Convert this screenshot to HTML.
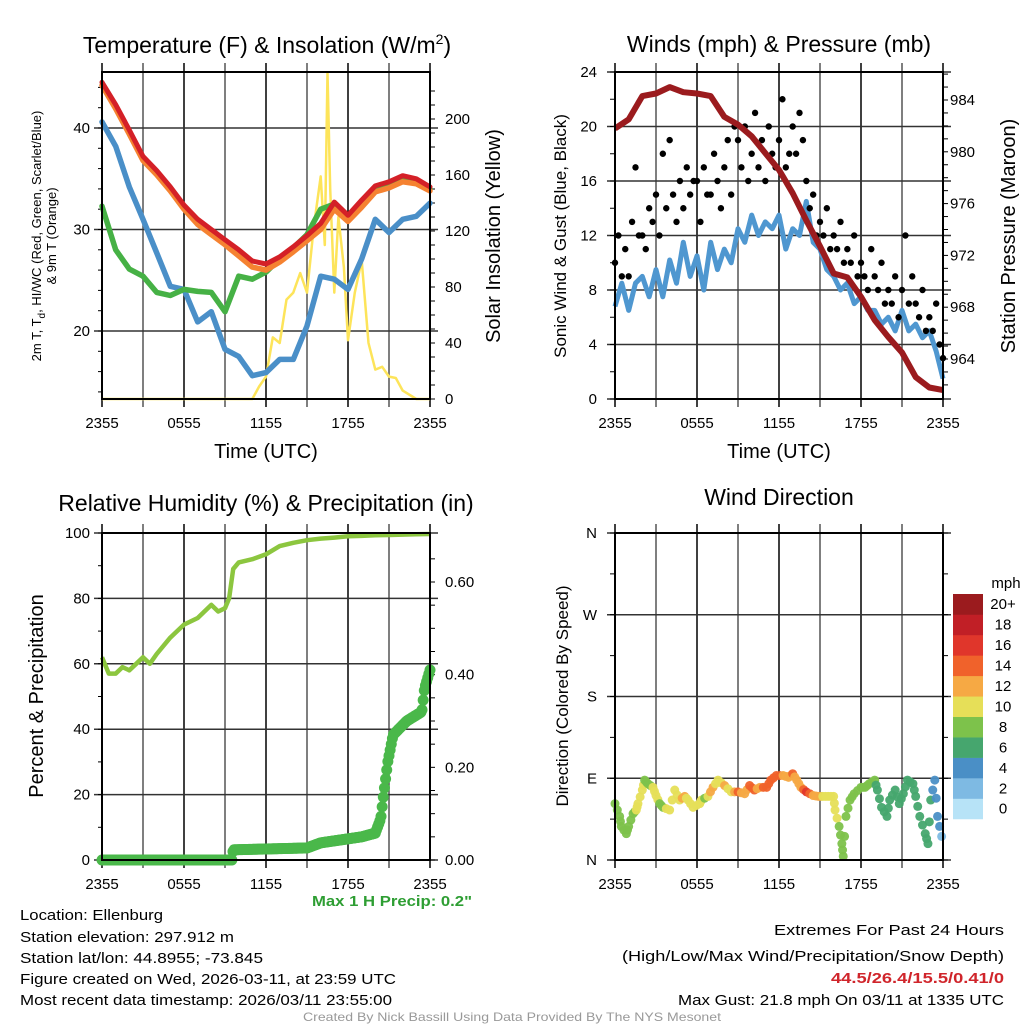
<!DOCTYPE html>
<html><head><meta charset="utf-8"><style>
html,body{margin:0;padding:0;background:#fff;}
svg{display:block;font-family:"Liberation Sans",sans-serif;}
</style></head><body>
<svg id="fig" width="1024" height="1024" viewBox="0 0 1024 1024" xmlns="http://www.w3.org/2000/svg">
<g id="g1"></g>
<g id="g2"></g>
<g id="g3"></g>
<g id="g4"></g>
<g id="txt">
<text x="267" y="53" font-size="23" text-anchor="middle">Temperature (F) &amp; Insolation (W/m<tspan dy="-9" font-size="14">2</tspan><tspan dy="9">)</tspan></text>
<text x="779" y="52" font-size="23" text-anchor="middle">Winds (mph) &amp; Pressure (mb)</text>
<text x="266" y="511" font-size="23" text-anchor="middle">Relative Humidity (%) &amp; Precipitation (in)</text>
<text x="779" y="505" font-size="23" text-anchor="middle">Wind Direction</text>
<text x="266" y="458" font-size="20" text-anchor="middle">Time (UTC)</text>
<text x="779" y="458" font-size="20" text-anchor="middle">Time (UTC)</text>
<text transform="translate(41,236) rotate(-90)" font-size="13" text-anchor="middle">2m T, T<tspan dy="4" font-size="10">d</tspan><tspan dy="-4">, HI/WC (Red, Green, Scarlet/Blue)</tspan></text>
<text transform="translate(56,236) rotate(-90)" font-size="13" text-anchor="middle">&amp; 9m T (Orange)</text>
<text transform="translate(500,236) rotate(-90)" font-size="20" text-anchor="middle">Solar Insolation (Yellow)</text>
<text transform="translate(566,236) rotate(-90)" font-size="17" text-anchor="middle">Sonic Wind &amp; Gust (Blue, Black)</text>
<text transform="translate(1015,236) rotate(-90)" font-size="20" text-anchor="middle">Station Pressure (Maroon)</text>
<text transform="translate(43,696) rotate(-90)" font-size="20" text-anchor="middle">Percent &amp; Precipitation</text>
<text transform="translate(568,696) rotate(-90)" font-size="17" text-anchor="middle">Direction (Colored By Speed)</text>
<text x="472" y="906" font-size="15" font-weight="bold" fill="#2e9e33" text-anchor="end" textLength="160" lengthAdjust="spacingAndGlyphs">Max 1 H Precip: 0.2"</text>
<text x="20" y="920" font-size="15" textLength="143" lengthAdjust="spacingAndGlyphs">Location: Ellenburg</text>
<text x="20" y="942" font-size="15" textLength="214" lengthAdjust="spacingAndGlyphs">Station elevation: 297.912 m</text>
<text x="20" y="963" font-size="15" textLength="243" lengthAdjust="spacingAndGlyphs">Station lat/lon: 44.8955; -73.845</text>
<text x="20" y="984" font-size="15" textLength="376" lengthAdjust="spacingAndGlyphs">Figure created on Wed, 2026-03-11, at 23:59 UTC</text>
<text x="20" y="1005" font-size="15" textLength="372" lengthAdjust="spacingAndGlyphs">Most recent data timestamp: 2026/03/11 23:55:00</text>
<text x="1004" y="935" font-size="15" text-anchor="end" textLength="230" lengthAdjust="spacingAndGlyphs">Extremes For Past 24 Hours</text>
<text x="1004" y="961" font-size="15" text-anchor="end" textLength="382" lengthAdjust="spacingAndGlyphs">(High/Low/Max Wind/Precipitation/Snow Depth)</text>
<text x="1004" y="983" font-size="15" font-weight="bold" fill="#d0252b" text-anchor="end" textLength="173" lengthAdjust="spacingAndGlyphs">44.5/26.4/15.5/0.41/0</text>
<text x="1004" y="1005" font-size="15" text-anchor="end" textLength="326" lengthAdjust="spacingAndGlyphs">Max Gust: 21.8 mph On 03/11 at 1335 UTC</text>
<text x="512" y="1021" font-size="12" fill="#999" text-anchor="middle" textLength="418" lengthAdjust="spacingAndGlyphs">Created By Nick Bassill Using Data Provided By The NYS Mesonet</text>
</g>
</svg>
<script>
// ---- Data ----
const timeLabels = ["2355","0555","1155","1755","2355"];
const hours = [0,1,2,3,4,5,6,7,8,9,10,11,12,13,14,15,16,17,18,19,20,21,22,23,24];
const tempRed = [44.5,42.3,39.8,37.2,35.8,34.2,32.4,31.0,30.0,29.0,28.0,26.9,26.6,27.3,28.3,29.4,30.6,32.7,31.4,32.9,34.3,34.7,35.3,35.0,34.2];
const temp9mOrange = [44.2,41.9,39.4,36.8,35.4,33.8,32.0,30.5,29.5,28.5,27.4,26.3,26.0,26.8,27.8,28.9,30.0,32.0,30.8,32.2,33.7,34.1,34.7,34.5,33.8];
const hiwcGreen = [32.3,28.0,26.1,25.4,23.8,23.5,24.1,23.9,23.8,21.9,25.4,25.1,25.8,27.1,28.2,29.5,32.0,32.5,31.2,32.7,34.1,34.5,35.1,34.9,34.0];
const dewBlue = [40.6,38.2,34.2,31.0,27.7,24.4,24.1,20.9,21.9,18.2,17.5,15.6,15.9,17.2,17.2,20.5,25.4,25.1,24.1,27.1,31.0,29.7,31.0,31.3,32.6];
const solarTimes = [0,11,11.5,12,12.5,13,13.5,14,14.5,15,15.5,16,16.3,16.5,16.7,17,17.3,17.7,18,18.5,19,19.5,20,20.5,21,21.5,22,23,24];
const solarVals = [0,0,9,16,44,40,71,76,90,76,123,159,110,233,150,76,130,94,42,76,99,40,21,23,16,15,6,0,0];
const windTimes = [0,.5,1,1.5,2,2.5,3,3.5,4,4.5,5,5.5,6,6.5,7,7.5,8,8.5,9,9.5,10,10.5,11,11.5,12,12.5,13,13.5,14,14.5,15,15.5,16,16.5,17,17.5,18,18.5,19,19.5,20,20.5,21,21.5,22,22.5,23,23.5,24];
const windSpeed = [6.8,8.5,6.5,8.5,9.0,7.5,9.5,7.5,10.2,8.5,11.5,9.0,10.5,8.0,11.5,9.5,11.0,10.0,12.5,11.5,13.5,12.0,13.0,12.5,13.5,11.0,12.5,12.0,14.5,11.5,11.0,9.5,9.0,8.0,8.5,7.0,7.5,6.5,6.5,5.5,6.0,5.0,6.5,5.0,5.5,4.5,5.0,3.5,1.5];
const gustVals = [10,12,9,11, 9,13,17,12, 12,11,14,13, 15,12,18,14, 19,15,13,16, 14,17,15,16, 16,13,17,15, 15,18,16,14, 17,19,15,20, 19,17,20,16, 18,21,17,19, 16,20,18,17, 19,22,17,18, 20,18,21,19, 16,14,15,12, 13,12,14,11, 12,11,13,10, 11,10,12,9, 10,9,8,11, 9,8,10,7, 8,7,9,6, 8,12,7,9, 7,6,8,5, 6,5,7,4, 3];
const pressure = [981.8,982.5,984.3,984.5,985.0,984.6,984.5,984.3,982.7,982.1,981.2,979.9,978.6,976.8,974.7,972.7,970.6,970.3,968.8,967.0,965.7,964.5,962.6,961.8,961.6];
const rhTimes = [0,0.5,1,1.5,2,2.5,3,3.5,4,5,6,7,8,8.5,9,9.3,9.6,10,11,12,13,14,15,16,17,18,19,20,21,22,23,24];
const rhVals = [62,57,57,59,58,60,62,60,63,68,72,74,78,76,77,80,89,91,92,93.5,96,97,97.8,98.3,98.6,99,99.1,99.3,99.4,99.5,99.6,99.7];
const precipTimes = [0,9.5,9.6,15,16,19,20,20.4,20.6,20.9,21.3,22.3,23.4,23.6,24];
const precipVals = [0,0,0.022,0.026,0.037,0.05,0.058,0.09,0.14,0.21,0.27,0.30,0.32,0.37,0.41];
const dirTimes = [0,.34,.46,.83,1.0,1.32,1.56,1.68,2.0,2.17,2.41,2.78,3.0,3.27,3.51,4.0,4.37,4.73,5.1,5.34,5.71,6.2,6.32,6.8,7.17,7.54,8.02,8.5,9.0,9.49,9.85,10.2,10.6,11.1,11.4,11.8,12.3,12.7,13.0,13.3,13.6,14.0,14.5,14.9,15.2,15.6,16.0,16.1,16.4,16.6,16.7,16.9,17.2,17.5,18.0,18.3,18.6,19.0,19.2,19.5,19.9,20.1,20.5,20.8,21.1,21.4,21.8,22.0,22.3,22.7,22.9,23.1,23.4,23.6,23.9];
const dirVals = [62,48,37,29,37,51,55,62,77,88,84,80,71,62,58,55,77,66,70,66,58,62,66,70,80,88,82,75,75,73,82,77,80,80,88,93,93,91,95,88,80,75,71,70,70,70,70,55,37,18,4,48,66,73,80,80,84,88,77,58,48,66,77,62,73,88,84,70,48,29,18,66,88,48,26];
const cbLabels = ["0","2","4","6","8","10","12","14","16","18","20+"];
const cbColors = ["#b7e3f7","#7ebae3","#4a8fc6","#46a66e","#7dc24b","#e6df58","#f6a944","#f0622b","#e0362b","#c11f26","#9b1b1e"];

// ---- helpers ----
const NS="http://www.w3.org/2000/svg";
function mk(parent,tag,attrs,text){const e=document.createElementNS(NS,tag);for(const k in attrs)e.setAttribute(k,attrs[k]);if(text!==undefined)e.textContent=text;parent.appendChild(e);return e;}
function lin(d0,d1,r0,r1){return v=>r0+(v-d0)*(r1-r0)/(d1-d0);}
function interp(ts,vs,t){if(t<=ts[0])return vs[0];for(let i=1;i<ts.length;i++){if(t<=ts[i]){const f=(t-ts[i-1])/(ts[i]-ts[i-1]);return vs[i-1]+f*(vs[i]-vs[i-1]);}}return vs[vs.length-1];}
function pathOf(ts,vs,X,Y){return ts.map((t,i)=>(i?"L":"M")+X(t).toFixed(1)+","+Y(vs[i]).toFixed(1)).join("");}

function frame(g,x0,x1,y0,y1,hLines,name){
  const X=lin(0,24,x0,x1);
  for(let h=0;h<=24;h+=3){
    const l=mk(g,"line",{x1:X(h),x2:X(h),y1:y0-9,y2:y1+8,stroke:(h%6===0?"#000":"#555"),"stroke-width":1.5});
    
    
  }
  hLines.forEach(y=>{
    const l=mk(g,"line",{x1:x0-8,x2:x1+8,y1:y,y2:y,stroke:"#333","stroke-width":1.5});
    
    
  });
  timeLabels.forEach((s,i)=>{
    const t=mk(g,"text",{x:X(i*6),y:y1+29,"font-size":15,"text-anchor":"middle"},s);
    
    
  });
  return X;
}
function border(g,x0,x1,y0,y1){
  const r=mk(g,"rect",{x:x0,y:y0,width:x1-x0,height:y1-y0,fill:"none",stroke:"#000","stroke-width":2});
  
  
}
function yTicks(g,vals,Y,x,anchor,fmt){
  vals.forEach(v=>{
    const t=mk(g,"text",{x:x,y:Y(v)+5,"font-size":15,"text-anchor":anchor},fmt(v));
    
    
  });
}
function minorTicks(g,xa,dir,ys,len){
  ys.forEach(y=>{
    const l=mk(g,"line",{x1:xa,x2:xa+dir*len,y1:y,y2:y,stroke:"#000","stroke-width":1});
    
    
  });
}

// ---- Panel 1 ----
(function(){
  const g=document.getElementById("g1");
  const x0=102,x1=430,y0=72,y1=399;
  const Y=lin(20,40,331,128), Ys=lin(0,200,399,119);
  const X=frame(g,x0,x1,y0,y1,[Y(20),Y(30),Y(40)]);
  const ys=[];for(let v=0;v<=220;v+=10)ys.push(Ys(v));minorTicks(g,x1,1,ys,5);
  const yl=[];for(let v=14;v<=45;v+=2)yl.push(Y(v));minorTicks(g,x0,-1,yl,4);
  const series=[[dewBlue,"#4a8fc8","dewpoint-line",5.5],[hiwcGreen,"#46b145","heat-index-line",5.5],[temp9mOrange,"#f58231","temp-9m-line",5.5],[tempRed,"#d42027","temp-2m-line",5]];
  const sol=mk(g,"path",{d:pathOf(solarTimes,solarVals,X,Ys),fill:"none",stroke:"#fde45a","stroke-width":2.5,"stroke-linejoin":"round"});
  
  
  series.forEach(s=>{
    const p=mk(g,"path",{d:pathOf(hours,s[0],X,Y),fill:"none",stroke:s[1],"stroke-width":s[3],"stroke-linejoin":"round","stroke-linecap":"round"});
    
    
  });
  border(g,x0,x1,y0,y1);
  yTicks(g,[20,30,40],Y,90,"end",v=>v);
  yTicks(g,[0,40,80,120,160,200],Ys,445,"start",v=>v);
})();

// ---- Panel 2 ----
(function(){
  const g=document.getElementById("g2");
  const x0=615,x1=943,y0=72,y1=399;
  const Y=lin(0,24,399,72), Yp=lin(964,984,359,100);
  const X=frame(g,x0,x1,y0,y1,[0,4,8,12,16,20,24].map(Y));
  const yl=[];for(let v=0;v<=24;v+=2)yl.push(Y(v));minorTicks(g,x0,-1,yl,5);
  const yr=[];for(let v=962;v<=986;v++)yr.push(Yp(v));minorTicks(g,x1,1,yr,5);
  const w=mk(g,"path",{d:pathOf(windTimes,windSpeed,X,Y),fill:"none",stroke:"#4f97d0","stroke-width":5,"stroke-linejoin":"round"});
  
  
  gustVals.forEach((v,i)=>{
    const c=mk(g,"circle",{cx:X(i*0.25),cy:Y(v),r:3.2,fill:"#000"});
    
    
  });
  const p=mk(g,"path",{d:pathOf(hours,pressure,X,Yp),fill:"none",stroke:"#9b1b1e","stroke-width":6,"stroke-linejoin":"round"});
  
  
  border(g,x0,x1,y0,y1);
  yTicks(g,[0,4,8,12,16,20,24],Y,597,"end",v=>v);
  yTicks(g,[964,968,972,976,980,984],Yp,950,"start",v=>v);
})();

// ---- Panel 3 ----
(function(){
  const g=document.getElementById("g3");
  const x0=102,x1=430,y0=533,y1=860;
  const Y=lin(0,100,860,533), Yp=lin(0,0.6,860,582);
  const X=frame(g,x0,x1,y0,y1,[0,20,40,60,80,100].map(Y));
  const yr=[];for(let v=0;v<=0.7;v+=0.05)yr.push(Yp(v));minorTicks(g,x1,1,yr,5);
  const yl=[];for(let v=0;v<=100;v+=10)yl.push(Y(v));minorTicks(g,x0,-1,yl,4);
  const rh=mk(g,"path",{d:pathOf(rhTimes,rhVals,X,Y),fill:"none",stroke:"#8cc63f","stroke-width":4.5,"stroke-linejoin":"round"});
  
  
  for(let m=0;m<=288;m++){
    const t=m/12;
    const c=mk(g,"circle",{cx:X(t),cy:Yp(interp(precipTimes,precipVals,t)),r:5.5,fill:"#4ab84a"});
    
    
  }
  border(g,x0,x1,y0,y1);
  yTicks(g,[0,20,40,60,80,100],Y,90,"end",v=>v);
  yTicks(g,[0,0.2,0.4,0.6],Yp,445,"start",v=>v.toFixed(2));
})();

// ---- Panel 4 ----
(function(){
  const g=document.getElementById("g4");
  const x0=615,x1=943,y0=533,y1=860;
  const Y=lin(0,360,860,533);
  const X=frame(g,x0,x1,y0,y1,[0,90,180,270,360].map(Y));
  ["N","E","S","W","N"].forEach((s,i)=>{
    const t=mk(g,"text",{x:597,y:Y(i*90)+5,"font-size":15,"text-anchor":"end"},s);
    
    
  });
  const yl=[];for(let v=0;v<=360;v+=45)yl.push(Y(v));minorTicks(g,x0,-1,yl,5);minorTicks(g,x1,1,yl,5);
  function col(s){let i=Math.floor(s/2);if(i<0)i=0;if(i>10)i=10;return cbColors[i];}
  for(let i=0;i<dirTimes.length;i++){
    const steps=(i<dirTimes.length-1)?2:1;
    for(let k=0;k<steps;k++){
      const t=i<dirTimes.length-1?dirTimes[i]+(dirTimes[i+1]-dirTimes[i])*k/2:dirTimes[i];
      const d=interp(dirTimes,dirVals,t);
      const s=interp(windTimes,windSpeed,t)+1.5;
      const c=mk(g,"circle",{cx:X(t),cy:Y(d),r:4.5,fill:col(s),"fill-opacity":0.95});
      
      
    }
  }
  border(g,x0,x1,y0,y1);
  const cb=mk(g,"g",{});
  
  
  const top=594,bh=20.45;
  cbColors.forEach((c,i)=>{
    const r=mk(cb,"rect",{x:953,y:top+(10-i)*bh,width:30,height:bh+0.3,fill:c});
    
    
    const t=mk(cb,"text",{x:1003,y:top+(10-i)*bh+bh/2+5,"font-size":15,"text-anchor":"middle"},cbLabels[i]);
    
    
  });
  const u=mk(cb,"text",{x:1006,y:588,"font-size":15,"text-anchor":"middle"},"mph");
  
  
})();
</script>
</body></html>
